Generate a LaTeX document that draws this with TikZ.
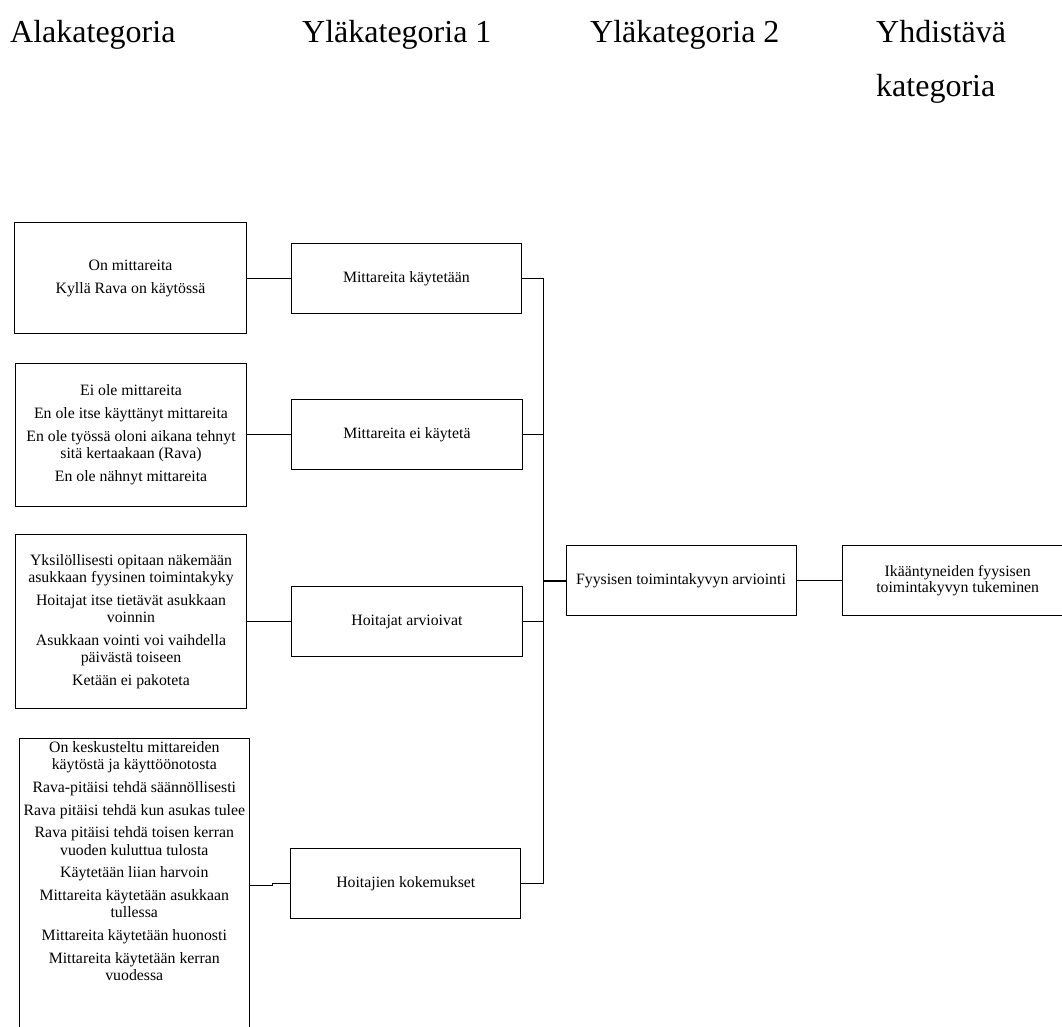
\documentclass[tikz,border=0pt]{standalone}
\usepackage{fontspec}
\setmainfont{Liberation Serif}
\usepackage{tikz}
\usetikzlibrary{positioning}

\begin{document}
\begin{tikzpicture}[
    x=1pt, y=-1pt,
    node distance=44pt,
    box/.style={
        draw,
        rectangle,
        line width=1pt,
        minimum width=231.5pt,
        minimum height=70pt,
        inner sep=2pt,
        align=center,
        font=\fontsize{15.8}{17.3}\selectfont
    },
    head/.style={
        anchor=base west,
        inner sep=0pt,
        font=\fontsize{32}{38}\selectfont
    },
    link/.style={line width=1pt}
]
\useasboundingbox (0,0) rectangle (1062,1026);

% otsikot
\node[head] (h1) at (10,42) {Alakategoria};
\node[head] (h2) at (302,42) {Yläkategoria 1};
\node[head] (h3) at (590,42) {Yläkategoria 2};
\node[head] (h4) at (876,42) {Yhdistävä};
\node[head] (h4b) at (876,96) {kategoria};

% alakategoriat
\node[box, minimum height=111pt] (a1) at (130.5,278.3) {
On mittareita \\[5.4pt]
Kyllä Rava on käytössä
};

\node[box, minimum height=143pt] (a2) at (131,434.7) {
Ei ole mittareita \\[5.4pt]
En ole itse käyttänyt mittareita \\[5.4pt]
En ole työssä oloni aikana tehnyt \\
sitä kertaakaan (Rava) \\[5.4pt]
En ole nähnyt mittareita
};

\node[box, minimum height=174pt] (a3) at (131,621.8) {
Yksilöllisesti opitaan näkemään \\
asukkaan fyysinen toimintakyky \\[5.4pt]
Hoitajat itse tietävät asukkaan \\
voinnin \\[5.4pt]
Asukkaan vointi voi vaihdella \\
päivästä toiseen \\[5.4pt]
Ketään ei pakoteta
};

\node[box, minimum width=230pt, minimum height=293.4pt, anchor=north] (a4) at (134.3,738.3) {};
\node[below=1pt of a4.north, align=center, inner sep=2pt,
      font=\fontsize{15.8}{17.3}\selectfont] (a4txt) {
On keskusteltu mittareiden \\
käytöstä ja käyttöönotosta \\[5.4pt]
Rava-pitäisi tehdä säännöllisesti \\[5.4pt]
Rava pitäisi tehdä kun asukas tulee \\[5.4pt]
Rava pitäisi tehdä toisen kerran \\
vuoden kuluttua tulosta \\[5.4pt]
Käytetään liian harvoin \\[5.4pt]
Mittareita käytetään asukkaan \\
tullessa \\[5.4pt]
Mittareita käytetään huonosti \\[5.4pt]
Mittareita käytetään kerran \\
vuodessa
};

% yläkategoriat
\node[box, minimum width=230.3pt, right=of a1] (y1a) {Mittareita käytetään};
\node[box, minimum width=230.3pt, right=of a2] (y1b) {Mittareita ei käytetä};
\node[box, minimum width=230.3pt, right=of a3] (y1c) {Hoitajat arvioivat};
\node[box, minimum width=230.3pt] (y1d) at (405.8,883.7) {Hoitajien kokemukset};

\node[box, minimum width=230pt] (y2) at (681,580.8) {Fyysisen toimintakyvyn arviointi};
\node[box, minimum width=230pt, right=45.7pt of y2,
      font=\fontsize{15.8}{15.5}\selectfont] (y3) {
Ikääntyneiden fyysisen \\
toimintakyvyn tukeminen
};

\coordinate (bus) at (543.3,580.8);

% yhteydet
\draw[link] (a1) -- (y1a);
\draw[link] (a2) -- (y1b);
\draw[link] (a3) -- (y1c);
\draw[link] (a4.east) -- ++(22.4,0) |- (y1d.west);

\draw[link] (y1a.east) -| (bus) |- (y1d.east);
\draw[link] (y1b.east) -- (y1b.east -| bus);
\draw[link] (y1c.east) -- (y1c.east -| bus);
\draw[line width=1.6pt] (bus) -- (y2);
\draw[link] (y2) -- (y3);

\end{tikzpicture}
\end{document}
